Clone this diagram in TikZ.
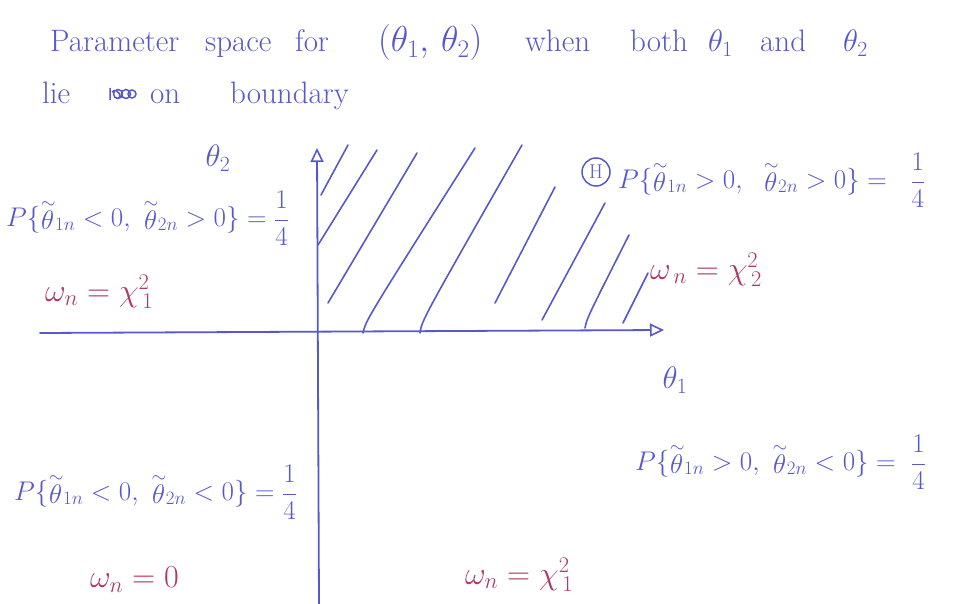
\RequirePackage{fix-cm}
\documentclass[tikz,border=0pt]{standalone}
\usetikzlibrary{arrows.meta}
\definecolor{pen}{RGB}{88,88,205}
\definecolor{redpen}{RGB}{175,55,105}
\newcommand{\tth}{\mathord{\stackrel{\sim}{\theta}}}
\tikzset{
  ink/.style={pen, line width=1.8pt, line cap=round},
  hatch/.style={pen, line width=1.6pt, line cap=round},
  txt/.style={pen, inner sep=0pt, font=\fontsize{31}{36}\selectfont},
  word/.style={txt, anchor=base west},
  prob/.style={pen, inner sep=0pt, anchor=west, font=\fontsize{27}{32}\selectfont},
  wn/.style={redpen, inner sep=0pt, anchor=west, font=\fontsize{32}{36}\selectfont},
  tip/.style={-{Triangle[open, length=14pt, width=13pt, line width=1.6pt]}}
}
\begin{document}
\begin{tikzpicture}[x=1pt,y=-1pt]
\useasboundingbox (0,0) rectangle (953,604);
% title, line 1
\node[word] (w1) at (50,52) {Parameter};
\node[word] (w2) at (205,52) {space};
\node[word] (w3) at (295,52) {for};
\node[word, font=\fontsize{36}{40}\selectfont] (w4) at (378,52) {$(\theta_1,\,\theta_2)$};
\node[word] (w5) at (525,52) {when};
\node[word] (w6) at (630,52) {both};
\node[word] (w7) at (708,52) {$\theta_1$};
\node[word] (w8) at (760,52) {and};
\node[word] (w9) at (843,52) {$\theta_2$};
% title, line 2
\node[word] (lie) at (42,104) {lie};
\node[word] (on) at (150,104) {on};
\node[word] (bnd) at (230,104) {boundary};
% scribble (crossed-out word)
\draw[pen, line width=1.5pt] (110,88) -- (110,100) (112,92) .. controls (118,86) and (124,100) .. (116,98)
  (118,94) circle[radius=4.5] (126,94) circle[radius=4.5] (132,94) circle[radius=4];
% axes
\coordinate (O) at (318,332);
\coordinate (xl) at (40,333);
\coordinate (xr) at (664,330);
\coordinate (yb) at (319,604);
\coordinate (yt) at (317,148);
\draw[ink, tip] (xl) -- (xr);
\draw[ink, tip] (yb) -- (yt);
\node[txt] (t2) at (218,158) {$\theta_2$};
\node[txt] (t1) at (675,380) {$\theta_1$};
% hatching
\draw[hatch] (321,195) -- (348,145);
\draw[hatch] (318,245) -- (377,150);
\draw[hatch] (328,303) -- (417,153);
\draw[hatch] (363,333) .. controls (366,320) .. (475,148);
\draw[hatch] (420,333) .. controls (422,320) .. (522,145);
\draw[hatch] (495,303) -- (555,187);
\draw[hatch] (542,320) -- (605,203);
\draw[hatch] (585,328) .. controls (587,318) .. (629,235);
\draw[hatch] (623,323) -- (648,273);
% H circle
\node[pen, draw, circle, line width=1.5pt, minimum size=28pt, inner sep=0pt, font=\fontsize{20}{22}\selectfont] (H) at (596,172) {H};
% probabilities
\node[prob] (pul) at (6,218) {$\displaystyle P\{\tth_{1n}<0,\ \tth_{2n}>0\} = \frac{1}{4}$};
\node[prob] (pur) at (618,180) {$\displaystyle P\{\tth_{1n}>0,\ \ \tth_{2n}>0\} =\ \ \frac{1}{4}$};
\node[prob] (pll) at (14,492) {$\displaystyle P\{\tth_{1n}<0,\ \tth_{2n}<0\} = \frac{1}{4}$};
\node[prob] (plr) at (635,462) {$\displaystyle P\{\tth_{1n}>0,\ \tth_{2n}<0\} =\ \frac{1}{4}$};
% statistics
\node[wn] (wul) at (45,292) {$\omega_n = \chi^2_{\,1}$};
\node[wn] (wur) at (650,270) {$\omega_{\,n} = \chi^2_{\,2}$};
\node[wn] (wll) at (90,580) {$\omega_n = 0$};
\node[wn] (wlr) at (465,575) {$\omega_n = \chi^2_{\,1}$};
\end{tikzpicture}
\end{document}
